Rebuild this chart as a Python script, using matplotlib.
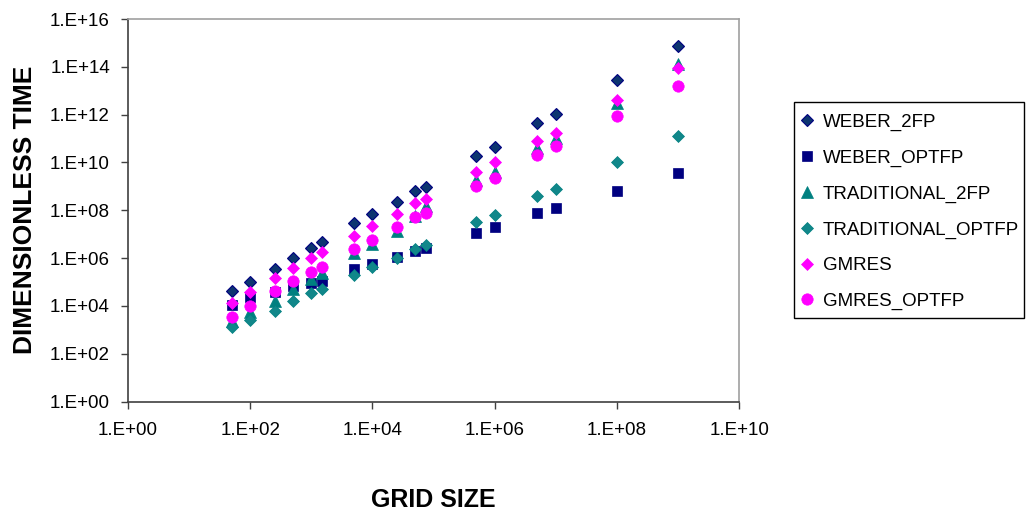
import matplotlib
matplotlib.use("Agg")
import matplotlib.pyplot as plt
from matplotlib.ticker import FixedLocator, FuncFormatter, NullLocator
from matplotlib.patches import Rectangle
import numpy as np

plt.rcParams['font.family'] = ['Liberation Sans', 'DejaVu Sans']

grid_size = [50, 100, 250, 500, 1000, 1500, 5000, 1e4, 25000, 5e4, 75000,
             5e5, 1e6, 5e6, 1e7, 1e8, 1e9]

weber_2fp = [4.2e4, 1.04e5, 3.6e5, 1.03e6, 2.7e6, 4.8e6, 2.9e7, 7.2e7, 2.2e8,
             6.7e8, 9.8e8, 1.85e10, 4.5e10, 4.5e11, 1.1e12, 2.8e13, 7.6e14]
weber_optfp = [1.07e4, 2.25e4, 3.8e4, 6.6e4, 8.8e4, 1.1e5, 3.4e5, 5.4e5, 1.14e6,
               1.9e6, 2.7e6, 1.13e7, 2.0e7, 7.9e7, 1.2e8, 6.1e8, 3.7e9]
traditional_2fp = [2.3e3, 5.3e3, 1.6e4, 5.0e4, 1.3e5, 2.3e5, 1.56e6, 3.7e6, 1.3e7,
                   5.9e7, 1.44e8, 1.86e9, 4.1e9, 4.1e10, 1.05e11, 3.0e12, 1.3e14]
traditional_optfp = [1.27e3, 2.6e3, 6.2e3, 1.6e4, 3.3e4, 5.0e4, 1.9e5, 4.2e5, 9.7e5,
                     2.3e6, 3.4e6, 3.1e7, 6.5e7, 4.0e8, 8.0e8, 1.07e10, 1.25e11]
gmres = [1.3e4, 3.8e4, 1.4e5, 4.0e5, 9.7e5, 1.77e6, 8.7e6, 2.3e7, 7.2e7,
         2.0e8, 2.9e8, 4.1e9, 1.0e10, 7.8e10, 1.75e11, 4.2e12, 8.6e13]
gmres_optfp = [3.5e3, 1.0e4, 4.2e4, 1.1e5, 2.6e5, 4.4e5, 2.3e6, 5.6e6, 2.0e7,
               5.0e7, 7.7e7, 1.08e9, 2.2e9, 2.0e10, 4.8e10, 8.7e11, 1.54e13]

series_names = ['WEBER_2FP', 'WEBER_OPTFP', 'TRADITIONAL_2FP',
                'TRADITIONAL_OPTFP', 'GMRES', 'GMRES_OPTFP']

x_ticks = [1e0, 1e2, 1e4, 1e6, 1e8, 1e10]
y_ticks = [1e0, 1e2, 1e4, 1e6, 1e8, 1e10, 1e12, 1e14, 1e16]

W, H = 1026, 517
fig = plt.figure(figsize=(W / 100, H / 100), dpi=100)
ax = fig.add_axes([128.0 / W, 1 - 401.5 / H, (739.2 - 128.0) / W, (401.5 - 19.0) / H])

styles = [
    dict(marker='D', ms=6.3, mfc='#0d3570', mec='#000080', mew=0.8),
    dict(marker='s', ms=7.2, mfc='#000080', mec='#000080', mew=0.5),
    dict(marker='^', ms=8.5, mfc='#008080', mec='#008080', mew=0.5),
    dict(marker='D', ms=6.3, mfc='#11878a', mec='#008080', mew=0.5),
    dict(marker='D', ms=6.3, mfc='#ff00ff', mec='#ff00ff', mew=0.5),
    dict(marker='o', ms=8.2, mfc='#ff00ff', mec='#ff00ff', mew=0.5),
]
data = [weber_2fp, weber_optfp, traditional_2fp, traditional_optfp, gmres, gmres_optfp]

for name, vals, st in zip(series_names, data, styles):
    ax.plot(grid_size, vals, linestyle='none', label=name, **st)

ax.set_xscale('log')
ax.set_yscale('log')
ax.set_xlim(1e0, 1e10)
ax.set_ylim(1e0, 1e16)

def fmt(v, pos):
    e = int(round(np.log10(v)))
    return '1.E+%02d' % e

ax.xaxis.set_major_locator(FixedLocator(x_ticks))
ax.yaxis.set_major_locator(FixedLocator(y_ticks))
ax.xaxis.set_minor_locator(NullLocator())
ax.yaxis.set_minor_locator(NullLocator())
ax.xaxis.set_major_formatter(FuncFormatter(fmt))
ax.yaxis.set_major_formatter(FuncFormatter(fmt))
ax.tick_params(axis='both', which='major', direction='out', length=5, width=1,
               labelsize=13.5, color='#404040', labelcolor='black', pad=8)
ax.tick_params(axis='x', pad=10)

for s in ['left', 'bottom']:
    ax.spines[s].set_color('#404040')
    ax.spines[s].set_linewidth(1.2)
for s in ['top', 'right']:
    ax.spines[s].set_color('#a0a0a0')
    ax.spines[s].set_linewidth(1.2)

fig.text(25 / W, 1 - 210 / H, 'DIMENSIONLESS TIME', rotation=90, ha='center',
         va='center', fontsize=19, fontweight='bold')
fig.text(433 / W, 1 - 500 / H, 'GRID SIZE', ha='center', va='center',
         fontsize=18, fontweight='bold')

leg = fig.legend(loc='upper left', bbox_to_anchor=(794 / W, 1 - 106.5 / H),
                 bbox_transform=fig.transFigure, frameon=False,
                 fontsize=13.5, handlelength=0.6,
                 handletextpad=0.55, labelspacing=0.99, borderpad=0.38,
                 borderaxespad=0, numpoints=1)

box_l, box_t, box_r, box_b = 794, 101.7, 1023.5, 318.3
fig.patches.append(Rectangle((box_l / W, 1 - box_b / H), (box_r - box_l) / W,
                             (box_b - box_t) / H, transform=fig.transFigure,
                             fill=False, edgecolor='black', linewidth=1.0))

fig.savefig('out.png', dpi=100)
